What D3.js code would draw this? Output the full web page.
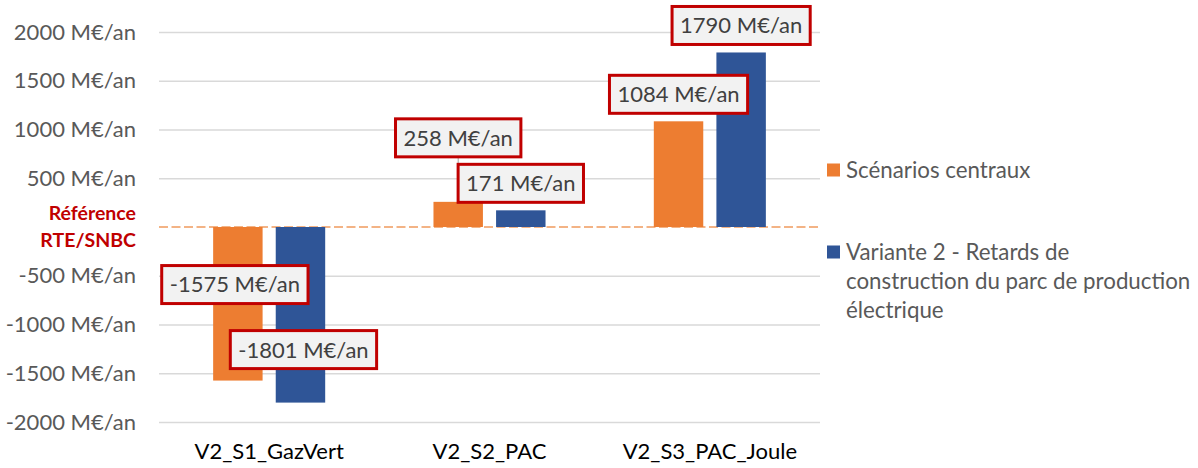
<!DOCTYPE html>
<html>
<head>
<meta charset="utf-8">
<style>
  body { margin: 0; background: #fff; }
  svg { font-family: Lato, "Open Sans", sans-serif; }
</style>
<script src="https://cdnjs.cloudflare.com/ajax/libs/d3/7.8.5/d3.min.js"></script>
</head>
<body>
<div id="chart"></div>
<script>
// data
var categories = ["V2_S1_GazVert", "V2_S2_PAC", "V2_S3_PAC_Joule"];
var seriesNames = ["Scénarios centraux", "Variante 2 - Retards de construction du parc de production électrique"];
var centraux = [-1575, 258, 1084];
var variante2 = [-1801, 171, 1790];
var yTicks = [-2000, -1500, -1000, -500, 500, 1000, 1500, 2000];
var refLabel = ["Référence", "RTE/SNBC"];

// label nudges in px (dx, dy from bar end), as placed in the original
var labelNudge = [[[-3, -96], [3, -53]], [[0, -64], [0, -27]], [[0, -27], [0, -27]]];

var W = 1198, H = 468;
var margin = {top: 32, bottom: 46, left: 159, right: 378};
var width = W - margin.left - margin.right,
    height = H - margin.top - margin.bottom;

var colors = ["#ED7D31", "#2F5597"];

var svg = d3.select("#chart").append("svg")
    .attr("width", W)
    .attr("height", H);

var g = svg.append("g")
    .attr("transform", "translate(" + margin.left + "," + margin.top + ")");

var y = d3.scaleLinear().domain([-2000, 2000]).range([height, 0]);
var x0 = d3.scaleBand().domain(categories).range([0, width]);
var x1 = d3.scaleBand().domain([0, 1]).range([0, x0.bandwidth()])
    .paddingInner(0.21).paddingOuter(0.865);

// gridlines + y labels
var yx = g.append("g")
    .call(d3.axisLeft(y).tickValues(yTicks).tickSize(-width).tickPadding(23)
        .tickFormat(function(d) { return d + " M€/an"; }));
yx.select(".domain").remove();
yx.selectAll("line").attr("stroke", "#D9D9D9").attr("stroke-width", 1.5);
yx.selectAll("text").attr("fill", "#595959").attr("font-size", "22px")
    .attr("font-family", "Lato, sans-serif");

// reference line at 0
g.append("line")
    .attr("x1", 0).attr("x2", width)
    .attr("y1", y(0)).attr("y2", y(0))
    .attr("stroke", "#F09B5E").attr("stroke-width", 1.5)
    .attr("stroke-dasharray", "9,3.5");

var ref = g.append("text")
    .attr("x", -23).attr("y", y(0))
    .attr("text-anchor", "end")
    .attr("fill", "#C00000")
    .attr("font-weight", "bold")
    .attr("font-size", "19.5px");
ref.append("tspan").attr("x", -23).attr("dy", "-0.35em").text(refLabel[0]);
ref.append("tspan").attr("x", -23).attr("dy", "1.4em").text(refLabel[1]);

// x labels
g.selectAll(".xlab").data(categories).enter().append("text")
    .attr("x", function(d) { return x0(d) + x0.bandwidth() / 2; })
    .attr("y", height + 37)
    .attr("text-anchor", "middle")
    .attr("fill", "#000")
    .attr("font-size", "22px")
    .text(function(d) { return d; });

// bars
var rows = categories.map(function(c, i) {
    return {cat: c, i: i, vals: [centraux[i], variante2[i]]};
});

var groups = g.selectAll(".grp").data(rows).enter().append("g")
    .attr("transform", function(d) { return "translate(" + x0(d.cat) + ",0)"; });

groups.selectAll("rect")
    .data(function(d) { return d.vals.map(function(v, s) { return {v: v, s: s, i: d.i}; }); })
    .enter().append("rect")
    .attr("x", function(d) { return x1(d.s); })
    .attr("width", x1.bandwidth())
    .attr("y", function(d) { return y(Math.max(0, d.v)); })
    .attr("height", function(d) { return Math.abs(y(d.v) - y(0)); })
    .attr("fill", function(d) { return colors[d.s]; });

// data labels
var labelData = [];
rows.forEach(function(r) {
    r.vals.forEach(function(v, s) {
        labelData.push({v: v, s: s, i: r.i, cat: r.cat});
    });
});

// leader for the moved 258 label
var lead = labelData[2];
var lx = x0(lead.cat) + x1(lead.s) + x1.bandwidth() / 2 + labelNudge[1][0][0];
g.append("line")
    .attr("x1", lx).attr("x2", lx)
    .attr("y1", y(lead.v) + labelNudge[1][0][1]).attr("y2", y(lead.v))
    .attr("stroke", "#A6A6A6").attr("stroke-width", 1);

var labs = g.selectAll(".lab").data(labelData).enter().append("g")
    .attr("transform", function(d) {
        var n = labelNudge[d.i][d.s];
        var cx = x0(d.cat) + x1(d.s) + x1.bandwidth() / 2 + n[0];
        var cy = y(d.v) + n[1];
        return "translate(" + cx + "," + cy + ")";
    });

labs.append("rect").attr("class", "box");
labs.append("text")
    .attr("text-anchor", "middle")
    .attr("dy", "0.36em")
    .attr("fill", "#404040")
    .attr("font-size", "22px")
    .text(function(d) { return d.v + " M€/an"; });

labs.each(function() {
    var t = d3.select(this).select("text").node().getComputedTextLength();
    d3.select(this).select("rect")
        .attr("x", -t / 2 - 8).attr("y", -19)
        .attr("width", t + 16).attr("height", 38)
        .attr("fill", "#F2F2F2")
        .attr("stroke", "#C00000").attr("stroke-width", 3);
});

// legend
var legend = svg.append("g").attr("transform", "translate(827,0)");
var legendLines = [["Scénarios centraux"], ["Variante 2 - Retards de", "construction du parc de production", "électrique"]];
var legendY = [170, 252];

legendLines.forEach(function(lines, s) {
    legend.append("rect")
        .attr("x", 0).attr("y", legendY[s] - 6.5)
        .attr("width", 13).attr("height", 13)
        .attr("fill", colors[s]);
    var t = legend.append("text")
        .attr("x", 19).attr("y", legendY[s])
        .attr("fill", "#595959")
        .attr("font-size", "22.3px");
    lines.forEach(function(l, k) {
        t.append("tspan").attr("x", 19).attr("dy", k === 0 ? "0.36em" : 29).text(l);
    });
});
</script>
</body>
</html>
